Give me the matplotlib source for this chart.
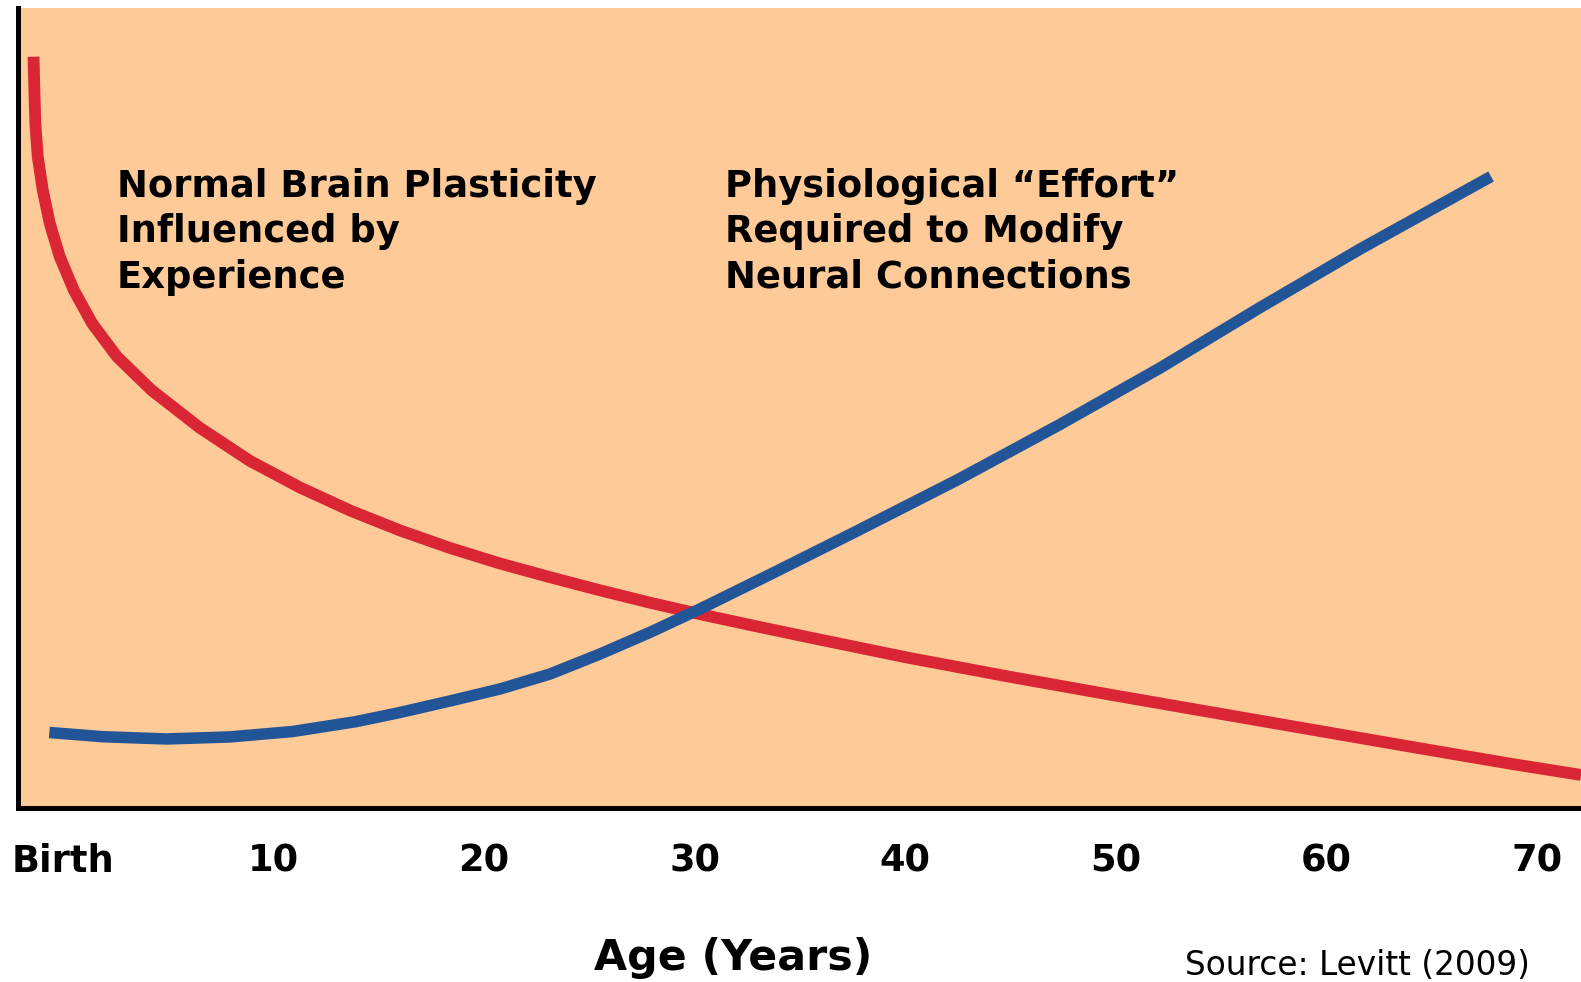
import matplotlib
matplotlib.use("Agg")
import matplotlib.pyplot as plt

# ---- data (age in years, relative level 0-100) ----
plasticity_age = [-1.401, -1.363, -1.316, -1.202, -0.964, -0.632, -0.157, 0.508,
                  1.378, 2.565, 4.195, 6.508, 8.884, 11.259, 13.634, 16.010,
                  18.385, 20.760, 23.135, 25.511, 27.886, 30.261, 32.637, 35.344,
                  40.095, 44.893, 49.691, 54.489, 59.287, 64.086, 68.836, 72.114]
plasticity_val = [93.91, 89.75, 85.59, 81.41, 77.25, 73.09, 68.91, 64.75,
                  60.59, 56.41, 52.25, 47.5, 43.38, 40.06, 37.19, 34.69,
                  32.5, 30.56, 28.85, 27.21, 25.66, 24.23, 22.88, 21.38,
                  18.81, 16.44, 14.19, 12.0, 9.81, 7.63, 5.5, 4.13]

effort_age = [-0.651, 1.900, 4.907, 7.905, 10.903, 13.905, 16.010, 18.385,
              20.760, 23.135, 25.511, 27.886, 30.261, 32.637, 33.397, 37.720,
              42.518, 47.316, 52.114, 56.865, 61.663, 67.838]
effort_val = [9.44, 8.91, 8.63, 8.88, 9.56, 10.79, 11.94, 13.38,
              14.88, 16.75, 19.25, 21.96, 24.88, 27.96, 28.94, 34.63,
              41.06, 47.88, 55.0, 62.56, 69.94, 78.94]

tick_pos = [0, 10, 20, 30, 40, 50, 60, 70]
tick_labels = ["Birth", "10", "20", "30", "40", "50", "60", "70"]

label_plasticity = "Normal Brain Plasticity\nInfluenced by\nExperience"
label_effort = "Physiological \u201cEffort\u201d\nRequired to Modify\nNeural Connections"
xlabel = "Age (Years)"
source = "Source: Levitt (2009)"

# ---- style ----
PEACH = "#FECA98"
RED = "#DA2534"
BLUE = "#225598"

W, H = 1581, 982
fig = plt.figure(figsize=(W / 100, H / 100), dpi=100)
fig.patch.set_facecolor("white")

ax_left, ax_right, ax_top, ax_bottom = 18, 1581, 8, 808
ax = fig.add_axes([ax_left / W, 1 - ax_bottom / H,
                   (ax_right - ax_left) / W, (ax_bottom - ax_top) / H])
ax.set_facecolor(PEACH)

ax.plot(plasticity_age, plasticity_val, color=RED, lw=8.5,
        solid_joinstyle="round", solid_capstyle="butt", zorder=2)
ax.plot(effort_age, effort_val, color=BLUE, lw=8.3,
        solid_joinstyle="round", solid_capstyle="butt", zorder=3)

ax.set_xlim(-2.14, 72.11)
ax.set_ylim(0, 100)

for s in ["top", "right"]:
    ax.spines[s].set_visible(False)
for s in ["left", "bottom"]:
    ax.spines[s].set_linewidth(3.6)
    ax.spines[s].set_color("black")

ax.set_yticks([])
ax.set_xticks(tick_pos)
ax.set_xticklabels(tick_labels, fontsize=26.5, fontweight="bold")
ax.tick_params(axis="x", length=0, pad=25)

ax.set_xlabel(xlabel, fontsize=30.8, fontweight="bold", va="baseline")
ax.xaxis.set_label_coords((733 - ax_left) / (ax_right - ax_left),
                          (ax_bottom - 970) / (ax_bottom - ax_top))

txt_kw = dict(fontsize=26.6, fontweight="bold", va="baseline", ha="left",
              transform=ax.transAxes, linespacing=1.3, color="black")
ax.text((117 - ax_left) / (ax_right - ax_left),
        (ax_bottom - 288) / (ax_bottom - ax_top), label_plasticity, **txt_kw)
ax.text((725 - ax_left) / (ax_right - ax_left),
        (ax_bottom - 288) / (ax_bottom - ax_top), label_effort, **txt_kw)

fig.text(1185 / W, 1 - 975 / H, source, fontsize=23.6, va="baseline",
         ha="left", color="black")

fig.savefig("out.png", dpi=100, facecolor="white")
